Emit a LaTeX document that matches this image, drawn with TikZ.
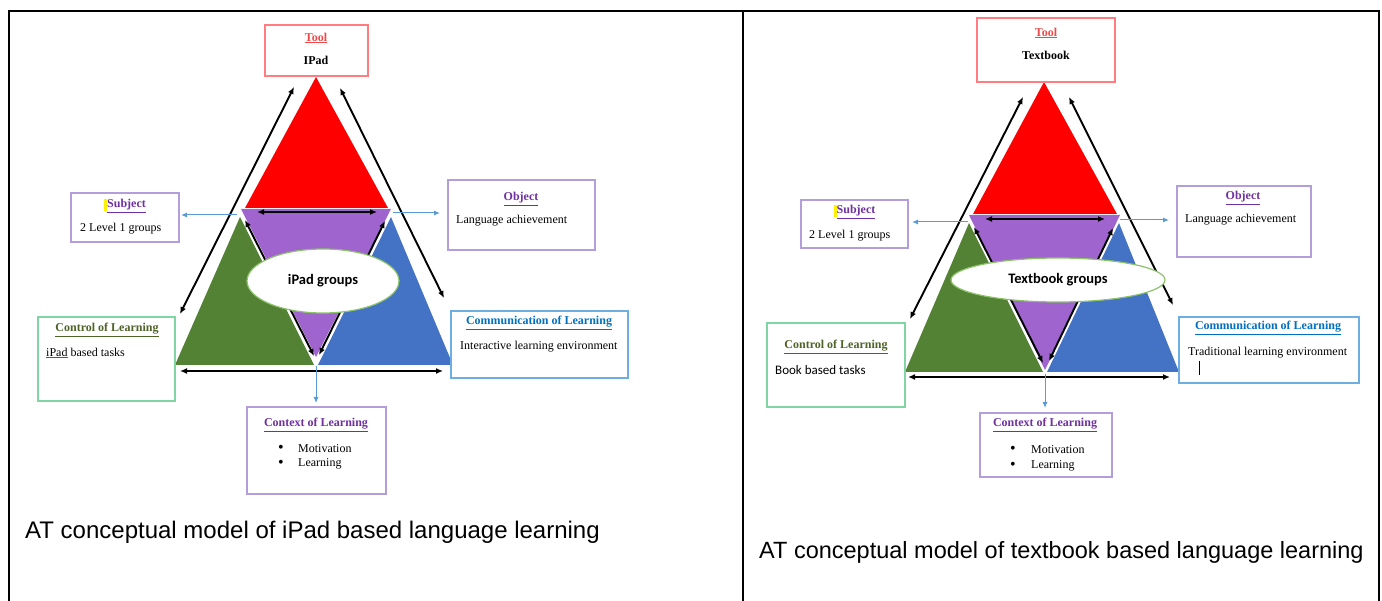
\documentclass[tikz,border=0pt]{standalone}
\usepackage{fontspec}
\setmainfont{Liberation Serif}
\newfontfamily\capfont{Liberation Sans}
\newfontfamily\calfont{Carlito}
\usetikzlibrary{arrows.meta,shapes.geometric}
\definecolor{tred}{HTML}{FF0000}
\definecolor{tpurple}{HTML}{A064CF}
\definecolor{tgreen}{HTML}{548235}
\definecolor{tblue}{HTML}{4472C4}
\definecolor{bred}{HTML}{FF7C80}
\definecolor{bpurple}{HTML}{B39DDB}
\definecolor{bgreen}{HTML}{7FD6A3}
\definecolor{bblue}{HTML}{6FAEE3}
\definecolor{ared}{HTML}{F04848}
\definecolor{apurple}{HTML}{7030A0}
\definecolor{agreen}{HTML}{4F6228}
\definecolor{ablue}{HTML}{0070C0}
\definecolor{lblue}{HTML}{5B9BD5}
\definecolor{egreen}{HTML}{8CC36A}
\newcommand\myfs[1]{\fontsize{#1}{#1}\selectfont}
\begin{document}
\begin{tikzpicture}[x=1pt,y=-1pt,
  box/.style={draw=#1, line width=1.4pt, fill=white, inner sep=0pt, outer sep=0pt},
  ttl/.style={inner sep=0pt, font=\myfs{12}\bfseries},
  txt/.style={inner sep=0pt, font=\myfs{12}, anchor=west},
  bul/.style={inner sep=0pt, font=\myfs{16}},
  barrow/.style={line width=1.9pt, {Latex[length=7pt,width=6pt]}-{Latex[length=7pt,width=6pt]}},
  larrow/.style={draw=lblue, line width=1pt, -{Latex[length=6pt,width=5pt]}},
  grp/.style={ellipse, draw=egreen, line width=1.2pt, fill=white, inner sep=0pt, font=\calfont\myfs{14.5}\bfseries},
  captext/.style={inner sep=0pt, anchor=west, font=\capfont\myfs{24}}]
\useasboundingbox (0,0) rectangle (1382,601);
% table borders
\draw[line width=1.2pt] (9,11) -- (1380,11);
\draw[line width=2.2pt] (9,11) -- (18,11) (633,11) -- (757,11) (1362,11) -- (1380,11);
\draw[line width=2pt] (9,10) -- (9,601);
\draw[line width=2pt] (743,10) -- (743,601);
\draw[line width=2pt] (1379,10) -- (1379,601);

% ================= LEFT PANEL =================
\fill[tred] (316,77) -- (245,208) -- (388,208) -- cycle;
\fill[tpurple] (241,209) -- (391,209) -- (316,357) -- cycle;
\fill[tgreen] (240,217) -- (175,365) -- (314,365) -- cycle;
\fill[tblue] (391,217) -- (318,365) -- (453,365) -- cycle;

\coordinate (aOL1) at (294,87);  \coordinate (aOL2) at (180,314);
\coordinate (aOR1) at (340,88);  \coordinate (aOR2) at (444,298);
\coordinate (aTH1) at (257,212); \coordinate (aTH2) at (377,212);
\coordinate (aIL1) at (245,220); \coordinate (aIL2) at (314,356);
\coordinate (aIR1) at (385,221); \coordinate (aIR2) at (319,355);
\coordinate (aBH1) at (180,371); \coordinate (aBH2) at (443,371);
\draw[barrow] (aOL1) -- (aOL2);
\draw[barrow] (aOR1) -- (aOR2);
\draw[barrow] (aTH1) -- (aTH2);
\draw[barrow] (aIL1) -- (aIL2);
\draw[barrow] (aIR1) -- (aIR2);
\draw[barrow] (aBH1) -- (aBH2);

\coordinate (aS0) at (237,215); \coordinate (aS1) at (181,215);
\coordinate (aO0) at (393,213); \coordinate (aO1) at (440,213);
\coordinate (aC0) at (316,366); \coordinate (aC1) at (316,403);
\draw[larrow] (aS0) -- (aS1);
\draw[larrow] (aO0) -- (aO1);
\draw[larrow] (aC0) -- (aC1);

\node[grp, minimum width=152pt, minimum height=64pt] (grpA) at (323,281) {iPad groups};

\node[box=bred, minimum width=103pt, minimum height=51pt] (toolA) at (316.5,50.5) {};
\node[box=bpurple, minimum width=108pt, minimum height=49pt] (subA) at (125,217.5) {};
\node[box=bpurple, minimum width=147pt, minimum height=70pt] (objA) at (521.5,215) {};
\node[box=bgreen, minimum width=137pt, minimum height=84pt] (conA) at (106.5,359) {};
\node[box=bblue, minimum width=177pt, minimum height=67pt] (comA) at (539.5,344.5) {};
\node[box=bpurple, minimum width=139pt, minimum height=87pt] (ctxA) at (316.5,450.5) {};

\node[ttl, text=ared] (toolAt) at (316,38) {\underline{Tool}};
\node[ttl] (toolAv) at (316,60) {IPad};
\fill[yellow] (104,199) rectangle (106.5,211);
\node[ttl, text=apurple] (subAt) at (126.5,206) {\underline{Subject}};
\node[txt] (subAv) at (80,229) {2 Level 1 groups};
\node[ttl, text=apurple] (objAt) at (521,199) {\underline{Object}};
\node[txt] (objAv) at (456,221) {Language achievement};
\node[ttl, text=agreen] (conAt) at (107,330) {\underline{Control of Learning}};
\node[txt] (conAv) at (46,353) {{\color{ablue}\underline{\color{black}iPad}} based tasks};
\node[ttl, text=ablue] (comAt) at (539,323) {\underline{Communication of Learning}};
\node[txt] (comAv) at (460,347) {Interactive learning environment};
\node[ttl, text=apurple] (ctxAt) at (316,425) {\underline{Context of Learning}};
\node[bul] (ctxAb1) at (281,449) {\textbullet};
\node[txt] (ctxA1) at (298,449) {Motivation};
\node[bul] (ctxAb2) at (281,464) {\textbullet};
\node[txt] (ctxA2) at (298,464) {Learning};
\node[captext] (capA) at (25,532) {AT conceptual model of iPad based language learning};

% ================= RIGHT PANEL =================
\fill[tred] (1044,82) -- (973,214) -- (1117,214) -- cycle;
\fill[tpurple] (969,215) -- (1120,215) -- (1045,370) -- cycle;
\fill[tgreen] (969,223) -- (905,372) -- (1043,372) -- cycle;
\fill[tblue] (1119,223) -- (1047,372) -- (1179,372) -- cycle;

\coordinate (bOL1) at (1023,97);  \coordinate (bOL2) at (910,319);
\coordinate (bOR1) at (1069,97);  \coordinate (bOR2) at (1173,305);
\coordinate (bTH1) at (985,219);  \coordinate (bTH2) at (1105,219);
\coordinate (bIL1) at (974,227);  \coordinate (bIL2) at (1043,363);
\coordinate (bIR1) at (1113,228); \coordinate (bIR2) at (1049,361);
\coordinate (bBH1) at (908,377);  \coordinate (bBH2) at (1170,377);
\draw[barrow] (bOL1) -- (bOL2);
\draw[barrow] (bOR1) -- (bOR2);
\draw[barrow] (bTH1) -- (bTH2);
\draw[barrow] (bIL1) -- (bIL2);
\draw[barrow] (bIR1) -- (bIR2);
\draw[barrow] (bBH1) -- (bBH2);

\coordinate (bS0) at (968,222);  \coordinate (bS1) at (912,222);
\coordinate (bO0) at (1120,220); \coordinate (bO1) at (1169,220);
\coordinate (bC0) at (1045,374); \coordinate (bC1) at (1045,408);
\draw[larrow] (bS0) -- (bS1);
\draw[larrow] (bO0) -- (bO1);
\draw[larrow] (bC0) -- (bC1);

\node[grp, minimum width=214pt, minimum height=44pt] (grpB) at (1058,280) {Textbook groups};

\node[box=bred, minimum width=138pt, minimum height=64pt] (toolB) at (1046,50) {};
\node[box=bpurple, minimum width=107pt, minimum height=48pt] (subB) at (854.5,224) {};
\node[box=bpurple, minimum width=134pt, minimum height=71pt] (objB) at (1244,221.5) {};
\node[box=bgreen, minimum width=138pt, minimum height=84pt] (conB) at (836,365) {};
\node[box=bblue, minimum width=180pt, minimum height=66pt] (comB) at (1269,350) {};
\node[box=bpurple, minimum width=132pt, minimum height=64pt] (ctxB) at (1046,445) {};

\node[ttl, text=ared] (toolBt) at (1046,33) {\underline{Tool}};
\node[ttl] (toolBv) at (1046,55) {Textbook};
\fill[yellow] (834,205) rectangle (836.5,217);
\node[ttl, text=apurple] (subBt) at (856,212) {\underline{Subject}};
\node[txt] (subBv) at (809,236) {2 Level 1 groups};
\node[ttl, text=apurple] (objBt) at (1243,198) {\underline{Object}};
\node[txt] (objBv) at (1185,220) {Language achievement};
\node[ttl, text=agreen] (conBt) at (836,347) {\underline{Control of Learning}};
\node[txt, font=\calfont\myfs{13}] (conBv) at (775,370) {Book based tasks};
\node[ttl, text=ablue] (comBt) at (1268,328) {\underline{Communication of Learning}};
\node[txt] (comBv) at (1188,353) {Traditional learning environment};
\draw[line width=1pt] (1199,361) -- (1199,375);
\node[ttl, text=apurple] (ctxBt) at (1045,425) {\underline{Context of Learning}};
\node[bul] (ctxBb1) at (1013,450) {\textbullet};
\node[txt] (ctxB1) at (1031,450) {Motivation};
\node[bul] (ctxBb2) at (1013,466) {\textbullet};
\node[txt] (ctxB2) at (1031,466) {Learning};
\node[captext, font=\capfont\myfs{23.5}] (capB) at (759,552) {AT conceptual model of textbook based language learning};
\end{tikzpicture}
\end{document}
